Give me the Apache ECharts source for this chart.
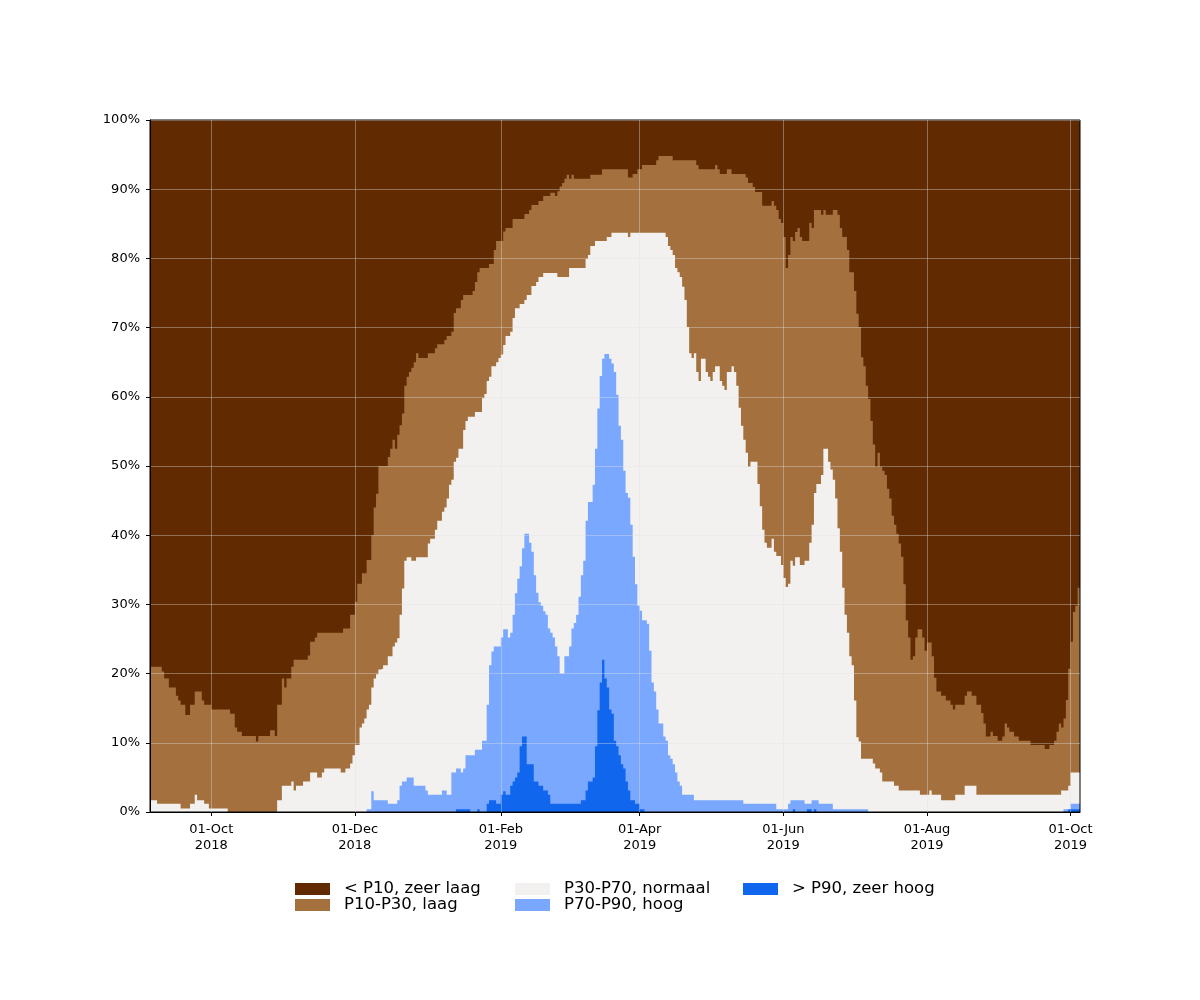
<!DOCTYPE html>
<html><head><meta charset="utf-8">
<script src="https://cdn.jsdelivr.net/npm/echarts@6/dist/echarts.min.js"></script>
<style>html,body{margin:0;padding:0;background:#fff}#c{width:1200px;height:1000px}</style>
</head><body><div id="c"></div>
<script>
// Days are counted from 2018-09-05; values are cumulative % (upper edge of each class)
const START_DATE = '2018-09-05';
const LAST_DAY = 395;

const seriesNames = ['< P10, zeer laag', 'P10-P30, laag', 'P30-P70, normaal', 'P70-P90, hoog', '> P90, zeer hoog'];
const seriesColors = ['#612a00', '#a3703e', '#f2f1ef', '#7aa8ff', '#1166ee'];

const tickDates = ['2018-10-01', '2018-12-01', '2019-02-01', '2019-04-01', '2019-06-01', '2019-08-01', '2019-10-01'];
const tickLabels = ['01-Oct\n2018', '01-Dec\n2018', '01-Feb\n2019', '01-Apr\n2019', '01-Jun\n2019', '01-Aug\n2019', '01-Oct\n2019'];

const topZeerLaag = [[0, 100]];

const topLaag = [[0,21.0],[5,20.3],[6,19.3],[8,18.0],[11,16.8],[12,16.1],[13,15.5],[15,14.0],[17,15.5],[19,17.4],[22,16.1],[23,15.5],[26,14.8],[34,14.2],[36,12.2],[37,11.6],[39,11.0],[45,10.2],[46,11.0],[51,11.8],[53,11.0],[54,15.5],[56,19.3],[57,18.0],[58,19.3],[60,21.0],[61,22.0],[67,22.6],[68,24.6],[70,25.2],[71,25.9],[82,26.5],[85,28.5],[87,30.4],[88,33.0],[90,34.5],[92,36.4],[94,40.0],[95,44.0],[96,46.0],[97,50.0],[101,51.3],[102,52.5],[103,53.8],[104,52.5],[105,54.5],[106,55.9],[107,57.6],[108,61.6],[109,62.9],[110,63.6],[111,64.2],[112,65.0],[113,66.3],[114,65.6],[118,66.3],[121,67.0],[122,67.6],[125,68.2],[126,68.8],[128,69.4],[129,72.1],[130,72.8],[132,74.0],[133,74.7],[137,75.3],[138,76.6],[139,78.0],[140,78.6],[144,79.2],[146,81.2],[147,82.5],[150,83.9],[151,84.4],[154,85.7],[159,86.4],[161,87.0],[162,87.7],[165,88.3],[167,89.0],[170,89.5],[172,89.0],[173,89.7],[174,90.4],[175,90.9],[176,91.5],[177,92.1],[178,91.5],[179,92.1],[180,91.5],[187,92.1],[192,92.9],[203,91.7],[205,92.2],[207,92.9],[209,93.5],[215,94.2],[216,94.8],[222,94.2],[232,93.5],[233,92.9],[240,93.5],[241,92.9],[242,92.2],[245,92.9],[247,92.2],[253,91.7],[254,90.9],[256,90.3],[257,89.6],[260,87.6],[264,88.3],[265,87.6],[266,87.0],[267,85.7],[268,85.1],[269,83.1],[270,78.6],[271,80.5],[272,83.1],[273,82.5],[274,83.8],[275,84.4],[276,83.1],[277,82.5],[280,85.1],[281,84.4],[282,87.0],[285,86.3],[286,87.0],[287,86.3],[290,87.0],[292,86.3],[293,84.4],[294,83.1],[296,81.2],[297,78.0],[299,75.3],[300,72.0],[301,70.1],[302,65.7],[303,64.4],[304,61.6],[305,59.7],[306,56.5],[307,53.1],[308,49.9],[309,51.9],[310,49.9],[311,49.3],[312,48.7],[313,46.7],[314,45.3],[315,42.8],[316,41.5],[317,40.2],[318,38.8],[319,36.9],[320,32.9],[321,27.7],[322,25.2],[323,22.0],[324,22.5],[325,25.2],[326,26.4],[328,25.2],[329,23.3],[330,24.5],[332,22.5],[333,19.4],[334,17.4],[336,16.8],[338,16.1],[340,15.5],[341,14.8],[342,15.5],[346,16.8],[347,17.4],[349,16.8],[351,15.5],[353,14.3],[354,12.8],[355,10.9],[357,11.6],[358,11.0],[360,10.3],[362,10.9],[363,12.8],[364,12.2],[365,11.6],[367,10.9],[369,10.3],[374,9.7],[380,9.1],[382,9.7],[384,10.3],[385,11.6],[386,12.8],[387,12.2],[388,13.5],[389,16.2],[390,20.7],[391,24.6],[392,28.9],[393,29.8],[394,32.4]];

const topNormaal = [[0,1.7],[3,1.2],[13,0.5],[17,1.2],[19,2.5],[20,1.7],[23,1.2],[25,0.5],[33,0],[54,1.7],[56,3.8],[60,4.4],[61,3.1],[62,3.8],[65,4.4],[68,5.7],[71,5.0],[73,5.7],[74,6.3],[81,5.7],[83,6.3],[85,7.0],[86,8.2],[87,9.7],[89,12.2],[90,12.8],[91,13.5],[92,14.8],[93,15.5],[94,18.0],[95,19.3],[96,19.9],[97,20.6],[98,20.7],[99,21.2],[101,22.5],[103,23.9],[104,24.5],[105,25.1],[106,28.5],[107,32.3],[108,36.3],[109,36.8],[111,36.3],[113,36.8],[118,38.8],[119,39.5],[121,40.8],[122,42.1],[124,43.4],[125,44.0],[126,45.3],[127,47.3],[128,48.0],[129,50.6],[130,51.2],[131,52.5],[133,55.2],[134,56.5],[135,57.1],[138,57.8],[141,59.8],[142,60.4],[143,62.3],[144,62.9],[145,64.4],[147,65.0],[148,65.6],[149,66.1],[150,67.5],[151,68.8],[153,69.4],[154,71.4],[155,72.8],[157,73.4],[159,74.0],[160,74.7],[162,76.0],[164,76.6],[165,77.3],[167,77.9],[173,77.3],[178,78.6],[185,79.9],[186,80.5],[187,81.8],[189,82.5],[194,83.1],[196,83.7],[203,83.1],[204,83.7],[219,83.1],[220,81.8],[221,81.2],[222,80.5],[223,78.6],[224,78.0],[225,77.3],[226,75.9],[227,74.0],[228,70.1],[229,66.3],[230,65.6],[231,66.3],[232,63.6],[233,62.3],[234,65.5],[236,63.6],[237,62.9],[238,62.3],[239,63.6],[240,64.4],[242,62.3],[243,61.6],[244,61.0],[245,63.6],[247,64.4],[248,63.6],[249,61.6],[250,58.4],[251,55.8],[252,53.8],[253,51.9],[254,49.9],[255,50.6],[258,47.4],[259,44.2],[260,40.8],[261,38.9],[262,38.2],[264,39.5],[265,37.6],[266,37.0],[268,35.7],[269,33.8],[270,32.5],[271,33.0],[272,36.3],[273,35.6],[274,36.8],[276,35.7],[278,36.3],[280,38.9],[281,41.5],[282,46.1],[283,47.4],[285,48.7],[286,52.5],[288,50.6],[289,49.5],[290,48.0],[291,45.3],[292,41.0],[293,37.6],[294,32.4],[295,28.5],[296,25.9],[297,22.5],[298,21.2],[299,16.1],[300,10.8],[301,10.2],[302,7.7],[307,7.0],[308,6.3],[310,5.7],[311,4.4],[316,3.8],[318,3.1],[327,2.5],[331,3.1],[332,2.5],[336,1.7],[342,2.5],[346,3.8],[351,2.5],[387,3.1],[390,3.8],[391,5.7]];

const topHoog = [[0,0],[92,0.4],[94,3.0],[95,1.7],[101,1.2],[105,1.7],[106,3.8],[107,4.4],[109,5.0],[112,3.8],[117,3.1],[118,2.5],[124,3.1],[126,2.5],[128,5.7],[130,6.3],[132,5.7],[133,6.3],[134,8.2],[138,9.0],[141,10.3],[143,15.5],[144,21.2],[145,23.2],[146,23.9],[149,25.2],[150,26.4],[152,25.2],[153,25.9],[154,28.5],[155,31.6],[156,33.7],[157,35.5],[158,38.1],[159,40.2],[161,38.9],[162,37.6],[163,34.2],[164,31.7],[165,30.3],[166,29.8],[167,29.0],[168,28.5],[169,26.5],[170,25.9],[171,25.2],[172,23.9],[173,22.5],[174,20.0],[176,22.5],[178,23.9],[179,26.5],[180,27.3],[181,28.5],[182,31.1],[183,34.2],[184,36.3],[185,42.1],[186,44.8],[188,47.3],[189,52.5],[190,58.3],[191,63.0],[192,65.5],[193,66.2],[195,65.5],[196,64.8],[197,63.6],[198,60.3],[199,55.8],[200,53.8],[201,49.3],[202,46.1],[203,45.4],[204,41.5],[205,36.9],[206,32.9],[207,29.8],[208,29.1],[209,27.7],[211,27.2],[212,23.3],[213,18.7],[214,17.4],[215,14.8],[216,12.8],[218,10.9],[219,10.3],[220,8.2],[221,7.7],[222,6.9],[223,5.7],[224,4.4],[225,3.8],[226,2.5],[231,1.7],[252,1.2],[266,0.4],[271,1.2],[272,1.7],[278,1.2],[281,1.7],[284,1.2],[290,0.4],[305,0],[388,0.4],[391,1.2]];

const topZeerHoog = [[0,0],[130,0.4],[136,0],[139,0.4],[140,0],[143,1.2],[144,1.7],[147,1.2],[149,2.5],[150,3.0],[151,2.5],[153,3.8],[154,4.4],[155,5.0],[156,5.7],[157,9.5],[158,10.9],[160,6.9],[163,4.4],[165,3.8],[167,3.1],[169,2.5],[170,1.2],[183,1.7],[185,3.1],[186,4.4],[188,5.0],[189,9.5],[190,14.7],[191,18.7],[192,22.0],[193,19.3],[194,18.0],[195,14.8],[196,14.2],[197,10.3],[198,9.5],[199,8.2],[200,6.9],[201,6.3],[202,4.4],[203,3.1],[204,1.7],[206,1.2],[208,0.4],[210,0],[273,0.4],[274,0],[279,0.4],[281,0],[282,0.4],[283,0],[390,0.4]];

const DAY = 86400000;
const START = new Date(START_DATE + 'T00:00:00Z').getTime();
const tickTs = tickDates.map(d => new Date(d + 'T00:00:00Z').getTime());

function toData(pairs) {
  const out = pairs.map(p => [START + p[0] * DAY, p[1]]);
  out.push([START + LAST_DAY * DAY, pairs[pairs.length - 1][1]]);
  return out;
}

const layers = [topZeerLaag, topLaag, topNormaal, topHoog, topZeerHoog];
const FONT = 'DejaVu Sans';
const gridColor = 'rgba(225,225,225,0.38)';

const series = layers.map((pairs, i) => ({
  name: seriesNames[i],
  type: 'line',
  step: 'end',
  symbol: 'none',
  silent: true,
  data: toData(pairs),
  itemStyle: { color: seriesColors[i] },
  lineStyle: { width: 0, opacity: 0 },
  areaStyle: { color: seriesColors[i], opacity: 1 },
  z: 2
}));

function mkLegend(names, left) {
  return {
    data: names, orient: 'vertical', left: left, top: 875.5,
    itemWidth: 35, itemHeight: 12, itemGap: -1, icon: 'rect', selectedMode: false,
    textStyle: { fontFamily: FONT, fontSize: 16.5, color: '#000', lineHeight: 15, padding: [0, 0, 0, 9] }
  };
}

const chart = echarts.init(document.getElementById('c'), null, { renderer: 'canvas' });
chart.setOption({
  animation: false,
  backgroundColor: '#fff',
  grid: { left: 150, right: 120, top: 120, bottom: 188, show: true, borderColor: '#000', borderWidth: 1, backgroundColor: 'transparent', z: 10 },
  legend: [
    mkLegend([seriesNames[0], seriesNames[1]], 290),
    mkLegend([seriesNames[2], seriesNames[3]], 510),
    mkLegend([seriesNames[4]], 738)
  ],
  xAxis: {
    type: 'value', min: START, max: START + LAST_DAY * DAY, z: 10,
    axisLine: { show: true, onZero: false, lineStyle: { color: '#000', width: 1 } },
    axisTick: { show: true, customValues: tickTs, length: 4, lineStyle: { color: '#000' } },
    axisLabel: {
      customValues: tickTs, fontFamily: FONT, fontSize: 13, color: '#000', lineHeight: 16, margin: 10,
      formatter: v => { const i = tickTs.indexOf(v); return i >= 0 ? tickLabels[i] : ''; }
    },
    splitLine: { show: true, lineStyle: { color: gridColor, width: 1 } }
  },
  yAxis: {
    type: 'value', min: 0, max: 100, interval: 10, z: 10,
    axisLine: { show: true, lineStyle: { color: '#000', width: 1 } },
    axisTick: { show: true, length: 4, lineStyle: { color: '#000' } },
    axisLabel: { formatter: '{value}%', fontFamily: FONT, fontSize: 13, color: '#000', margin: 10 },
    splitLine: { show: true, lineStyle: { color: gridColor, width: 1 } }
  },
  series: series
});
</script></body></html>
